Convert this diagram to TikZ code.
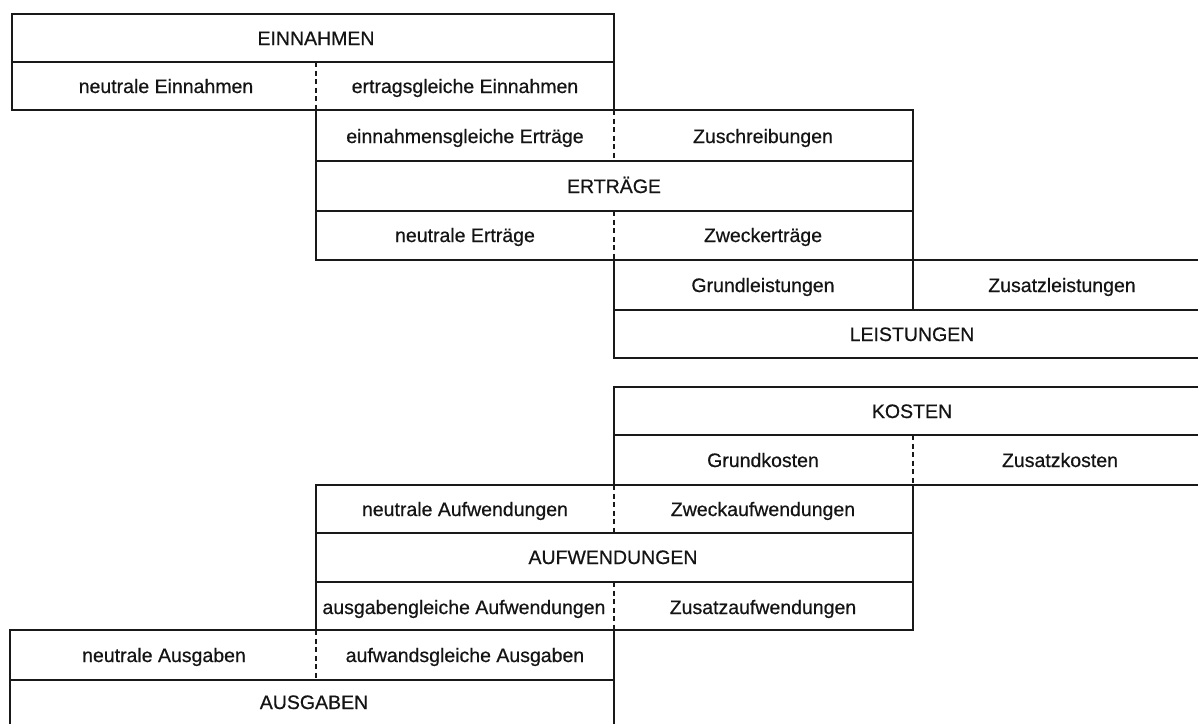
\documentclass[tikz,border=0pt]{standalone}
\usepackage{fontspec}
\setmainfont{Liberation Sans}
\newfontfamily\lblfont{Liberation Sans}[FakeBold=0.6]
\begin{document}
\begin{tikzpicture}[x=1pt,y=-1pt,
  rule/.style={line width=1.8pt,draw=black!90},
  split/.style={line width=1.8pt,draw=black!90,dash pattern=on 5pt off 3.5pt},
  lbl/.style={font=\lblfont\fontsize{19.5}{23}\selectfont,inner sep=0pt,anchor=base,text=black!92}]
\useasboundingbox (0,0) rectangle (1198,724);

% --- Einnahmen block
\draw[rule] (12,14) rectangle (614,110);
\draw[rule] (12,62) -- (614,62);
\draw[split] (316,62) -- (316,110);
\node[lbl] (einnahmen) at (316,45) {EINNAHMEN};
\node[lbl] (neutrEinn) at (166,93) {neutrale Einnahmen};
\node[lbl] (ertrEinn) at (465,93) {ertragsgleiche Einnahmen};

% --- Ertraege block
\draw[rule] (316,110) rectangle (913,260);
\draw[rule] (316,161) -- (913,161);
\draw[rule] (316,211) -- (913,211);
\draw[split] (614,110) -- (614,161);
\draw[split] (614,211) -- (614,260);
\node[lbl] (einnErtr) at (465,143) {einnahmensgleiche Erträge};
\node[lbl] (zuschr) at (763,143) {Zuschreibungen};
\node[lbl] (ertraege) at (614,193) {ERTRÄGE};
\node[lbl] (neutrErtr) at (465,242) {neutrale Erträge};
\node[lbl] (zweckErtr) at (763,242) {Zweckerträge};

% --- Leistungen block (open to the right)
\draw[rule] (1198,260) -- (614,260) -- (614,358) -- (1198,358);
\draw[rule] (614,310) -- (1198,310);
\draw[rule] (913,260) -- (913,310);
\node[lbl] (grundLeist) at (763,292) {Grundleistungen};
\node[lbl] (zusatzLeist) at (1062,292) {Zusatzleistungen};
\node[lbl] (leistungen) at (912,341) {LEISTUNGEN};

% --- Kosten block (open to the right)
\draw[rule] (1198,387) -- (614,387) -- (614,485) -- (1198,485);
\draw[rule] (614,435) -- (1198,435);
\draw[split] (913,435) -- (913,485);
\node[lbl] (kosten) at (912,418) {KOSTEN};
\node[lbl] (grundKost) at (763,467) {Grundkosten};
\node[lbl] (zusatzKost) at (1060,467) {Zusatzkosten};

% --- Aufwendungen block
\draw[rule] (316,485) rectangle (913,630);
\draw[rule] (316,533) -- (913,533);
\draw[rule] (316,582) -- (913,582);
\draw[split] (614,485) -- (614,533);
\draw[split] (614,582) -- (614,630);
\node[lbl] (neutrAufw) at (465,516) {neutrale Aufwendungen};
\node[lbl] (zweckAufw) at (763,516) {Zweckaufwendungen};
\node[lbl] (aufwendungen) at (613,564) {AUFWENDUNGEN};
\node[lbl] (ausgAufw) at (464,614) {ausgabengleiche Aufwendungen};
\node[lbl] (zusatzAufw) at (763,614) {Zusatzaufwendungen};

% --- Ausgaben block (open at the bottom)
\draw[rule] (10,724) -- (10,630) -- (614,630) -- (614,724);
\draw[rule] (10,680) -- (614,680);
\draw[split] (316,630) -- (316,680);
\node[lbl] (neutrAusg) at (164,662) {neutrale Ausgaben};
\node[lbl] (aufwAusg) at (465,662) {aufwandsgleiche Ausgaben};
\node[lbl] (ausgaben) at (314,709) {AUSGABEN};
\end{tikzpicture}
\end{document}
